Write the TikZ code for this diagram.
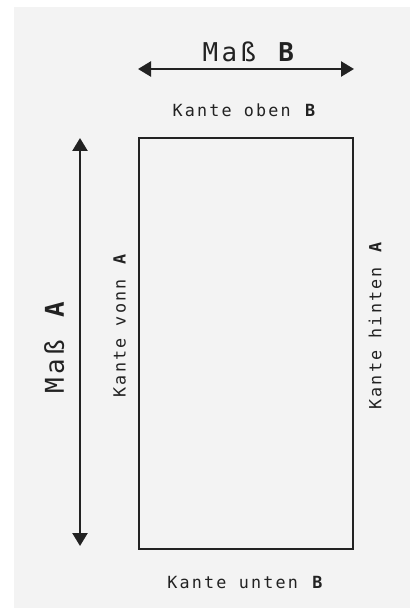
\documentclass[tikz,border=0pt]{standalone}
\usepackage{fontspec}
\usepackage{xcolor}
\usetikzlibrary{arrows.meta}
\setmonofont[LetterSpace=13]{DejaVu Sans Mono}
\definecolor{panelgray}{RGB}{243,243,243}
\definecolor{inkdark}{RGB}{34,34,34}

\begin{document}
\begin{tikzpicture}[x=1bp,y=-1bp,
    label/.style={text=inkdark,font=\ttfamily\fontsize{16.8}{18}\selectfont,inner sep=0pt,text depth=0pt},
    bigLabel/.style={text=inkdark,font=\ttfamily\fontsize{26}{28}\selectfont,inner sep=0pt,text depth=0pt},
    measure/.style={draw=inkdark,line width=2.5bp,{Triangle[length=13bp,width=15bp]}-{Triangle[length=13bp,width=15bp]}}]
    \useasboundingbox (0,0) rectangle (417,609);
    \fill [panelgray] (14,7) rectangle (410,608);

    \node (plate) at (246,343.5) [draw=inkdark,line width=2.5bp,minimum width=214bp,minimum height=411bp,inner sep=0pt] {};

    \coordinate (bLeft) at (138,69);
    \coordinate (bRight) at (354,69);
    \coordinate (aTop) at (80,138);
    \coordinate (aBottom) at (80,546);

    \node (massB) at (250,52) [bigLabel] {Maß \textbf{B}};
    \node (topEdge) at (245,110) [label] {Kante oben \textbf{B}};
    \node (bottomEdge) at (246,582) [label] {Kante unten \textbf{B}};
    \node (massA) at (54,346) [bigLabel,rotate=90] {Maß \textbf{A}};
    \node (frontEdge) at (119.5,325) [label,rotate=90] {Kante vonn \textbf{A}};
    \node (backEdge) at (375,325) [label,rotate=90] {Kante hinten \textbf{A}};

    \draw [measure] (bLeft) -- (bRight);
    \draw [measure] (aTop) -- (aBottom);

\end{tikzpicture}
\end{document}
